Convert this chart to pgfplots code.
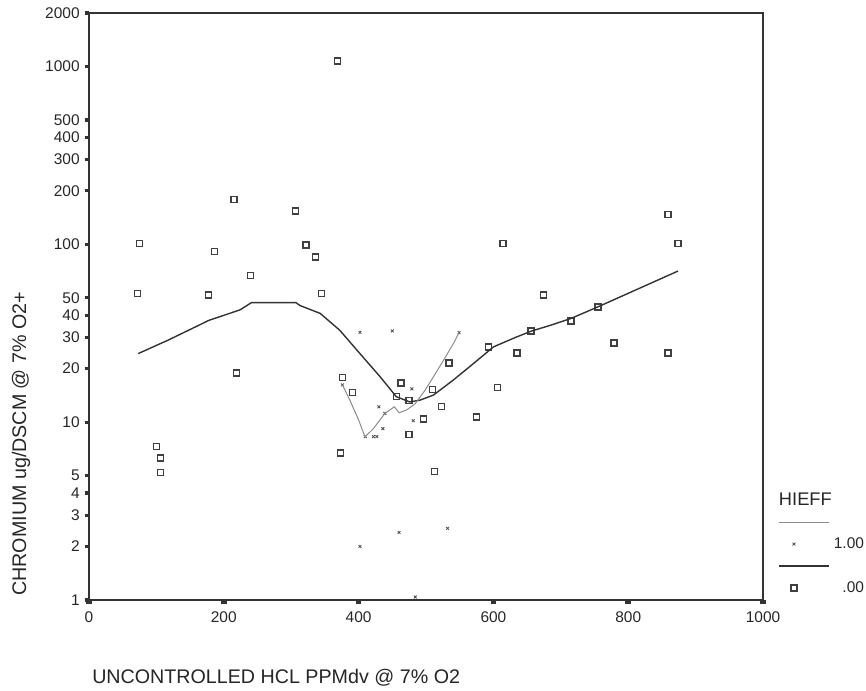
\documentclass[border=0pt]{standalone}
\usepackage{fontspec}
\setmainfont{Liberation Sans}
\usepackage{pgfplots}
\pgfplotsset{compat=1.18}
\pgfplotsset{
  lineleg/.style={legend image code/.code={\draw[##1,overlay] (0,0) -- (12.5mm,0); \path[draw=none,fill=none] (0,0) -- (5.25mm,0);}},
  markleg/.style={legend image code/.code={\draw[##1] plot coordinates {(3.75mm,0)}; \path[draw=none,fill=none] (0,0) -- (5.25mm,0);}},
  titleleg/.style={legend image code/.code={\node[overlay, anchor=west, inner sep=0pt, font=\fontsize{13}{15}\selectfont, text=black!85] at (0,0) {HIEFF}; \path[draw=none,fill=none] (0,0) -- (5.25mm,0);}},
}
\begin{document}
\begin{tikzpicture}
\useasboundingbox (0,0) rectangle (216.5mm,172.5mm);
\begin{axis}[
  at={(22.25mm,22.5mm)}, anchor=south west,
  scale only axis, width=168.5mm, height=146.75mm,
  xmin=0, xmax=1000, ymin=1, ymax=2000, ymode=log,
  xtick={0,200,400,600,800,1000},
  xticklabels={0,200,400,600,800,1000},
  ytick={1,2,3,4,5,10,20,30,40,50,100,200,300,400,500,1000,2000},
  yticklabels={1,2,3,4,5,10,20,30,40,50,100,200,300,400,500,1000,2000},
  yminorticks=false, xminorticks=false,
  xtick pos=bottom, ytick pos=left, tick align=outside,
  major tick length=1.1mm,
  axis line style={black!80, line width=0.4mm},
  x tick style={black!80, line width=1.4mm},
  y tick style={black!80, line width=0.8mm},
  tick label style={font=\fontsize{11}{13}\selectfont, text=black!85},
  xticklabel style={yshift=-0.6mm},
  clip mode=individual,
  xlabel={UNCONTROLLED HCL PPMdv @ 7\% O2},
  ylabel={CHROMIUM ug/DSCM @ 7\% O2+},
  every axis x label/.style={at={(rel axis cs:0,0)}, anchor=base west, inner sep=0pt, xshift=0.75mm, yshift=-20.75mm, font=\fontsize{14}{16}\selectfont, text=black!85},
  every axis y label/.style={at={(rel axis cs:0,0.266)}, xshift=-17mm, rotate=90, anchor=center, font=\fontsize{14}{16}\selectfont, text=black!85},
  legend style={at={(rel axis cs:1.0237,0.189)}, anchor=north west, draw=none, fill=none,
    inner sep=0pt, outer sep=0pt, row sep=0pt, column sep=7mm,
    nodes={minimum height=5.5mm, inner sep=0pt, font=\fontsize{11}{13}\selectfont, text=black!85}},
]
% HIEFF = .00 (squares)
\addplot[forget plot, only marks, mark=square, mark size=0.75mm, black!75, mark options={line width=0.33mm}] coordinates {
(72,53) (75,101) (100,7.3) (106,6.3) (106,5.2) (177,52) (186,91) (215,179) (219,18.9) (240,67)
(306,154) (322,99) (336,85) (345,53) (369,1076) (373,6.7) (376,17.9) (391,14.7) (456,13.9) (463,16.6)
(475,13.2) (475,8.5) (496,10.4) (510,15.3) (513,5.3) (523,12.2) (534,21.5) (575,10.7) (593,26.5) (606,15.7)
(614,101) (635,24.5) (656,32.5) (674,52) (715,37) (755,44.5) (779,27.9) (859,147) (859,24.5) (874,101)
};
% HIEFF = 1.00 (crosses)
\addplot[forget plot, only marks, mark=x, mark size=0.5mm, black!70, mark options={line width=0.2mm}] coordinates {
(402,32) (450,32.6) (549,31.9) (376,16.2) (430,12.2) (439,11.2) (410,8.3) (422,8.3) (427,8.3)
(436,9.2) (479,15.4) (481,10.2) (460,2.4) (532,2.53) (402,2.0) (484,1.04)
};
% fit line for .00
\addplot[forget plot, black!80, line width=0.35mm, mark=none] coordinates {
(73,24.3) (118,29) (178,37.4) (224,42.8) (241,47) (307,47) (313,45.3) (343,40.9) (372,32.9)
(402,24.3) (432,18) (456,13.9) (476,13.0) (491,13.3) (511,14.2) (540,17.2) (570,21.3) (600,26.5)
(634,30.1) (656,32.5) (684,35) (715,38.3) (755,44.5) (874,70.8)
};
% fit line for 1.00
\addplot[forget plot, black!45, line width=0.25mm, mark=none] coordinates {
(376,16.2) (387,13.3) (400,10.3) (409.5,8.27) (422,9.2) (439,11.2) (453,12.2) (460,11.3) (471,11.7)
(484,12.7) (498.5,15.1) (511,18) (526,22.3) (540.5,27.6) (549,31.9)
};
% legend
\addlegendimage{titleleg}
\addlegendentry{\phantom{x}}
\addlegendimage{black!45, line width=0.25mm, lineleg}
\addlegendentry{\phantom{x}}
\addlegendimage{only marks, mark=x, mark size=0.5mm, black!70, mark options={line width=0.2mm}, markleg}
\addlegendentry{\makebox[9mm][r]{1.00}}
\addlegendimage{black!80, line width=0.3mm, lineleg}
\addlegendentry{\phantom{x}}
\addlegendimage{only marks, mark=square, mark size=0.75mm, black!75, mark options={line width=0.3mm}, markleg}
\addlegendentry{\makebox[9mm][r]{.00}}
\end{axis}
\end{tikzpicture}
\end{document}
